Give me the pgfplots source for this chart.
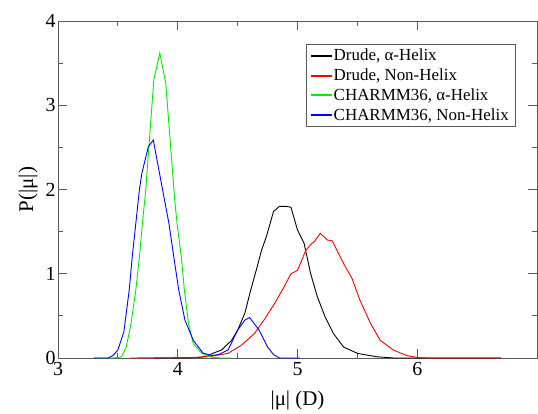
\documentclass[border=0pt]{standalone}
\usepackage{fontspec}
\setmainfont{Liberation Serif}
\usepackage{pgfplots}
\pgfplotsset{compat=1.18}
\definecolor{cgreen}{RGB}{0,235,0}
\definecolor{cblue}{RGB}{0,0,255}
\definecolor{cred}{RGB}{255,0,0}
\definecolor{axgray}{RGB}{90,90,90}
\begin{document}
\begin{tikzpicture}
\begin{axis}[
  scale only axis,
  width=479bp, height=337bp,
  xmin=3, xmax=7, ymin=0, ymax=4,
  xtick={3,4,5,6}, ytick={0,1,2,3,4},
  minor x tick num=1, minor y tick num=1,
  tick align=inside,
  major tick length=9bp, minor tick length=5bp,
  every tick/.style={axgray, line width=0.8pt},
  axis line style={axgray, line width=0.8pt},
  /pgf/number format/assume math mode=true,
  tick label style={font=\rmfamily\fontsize{20}{22}\selectfont, text=black},
  xticklabel style={yshift=-1bp},
  yticklabel style={xshift=1bp},
  xlabel={|μ| (D)}, ylabel={P(|μ|)},
  label style={font=\rmfamily\fontsize{21}{23}\selectfont},
  xlabel style={yshift=-8bp},
  ylabel style={yshift=1bp},
  legend style={at={(rel axis cs:0.955,0.932)}, anchor=north east,
    font=\rmfamily\fontsize{17}{19}\selectfont,
    inner xsep=4.5bp, inner ysep=3bp, row sep=2.5bp, cells={anchor=west}},
  every axis legend/.append style={draw=axgray},
  legend image code/.code={\fill[#1] (0bp,-0.5bp) rectangle (20bp,0.5bp);},
  every axis plot/.append style={line width=0.9pt},
]
\addplot[draw=black] coordinates {
(3.80,0) (4.10,0) (4.20,0.01) (4.256,0.03) (4.30,0.06) (4.366,0.095) (4.45,0.21)
(4.50,0.33) (4.56,0.53) (4.61,0.81) (4.655,1.04) (4.70,1.28) (4.74,1.44)
(4.80,1.74) (4.85,1.80) (4.90,1.80) (4.945,1.79) (5.00,1.52) (5.055,1.36)
(5.11,1.0) (5.165,0.73) (5.23,0.49) (5.30,0.29) (5.385,0.13) (5.50,0.055)
(5.66,0.015) (5.80,0) (6.70,0)};
\addplot[draw=cred] coordinates {
(3.60,0) (4.10,0.005) (4.26,0.015) (4.42,0.055) (4.53,0.15) (4.64,0.29)
(4.72,0.45) (4.81,0.65) (4.89,0.85) (4.945,1.0) (5.00,1.04) (5.07,1.28)
(5.12,1.36) (5.14,1.38) (5.19,1.48) (5.25,1.40) (5.29,1.39) (5.385,1.12)
(5.455,0.945) (5.52,0.69) (5.61,0.41) (5.69,0.21) (5.80,0.095) (5.91,0.03)
(6.00,0.005) (6.10,0) (6.70,0)};
\addplot[draw=cgreen] coordinates {
(3.30,0) (3.45,0) (3.50,0.005) (3.53,0.015) (3.57,0.13) (3.61,0.41) (3.65,0.81)
(3.68,1.2) (3.705,1.6) (3.733,2.0) (3.80,3.30) (3.85,3.62) (3.90,3.26)
(3.975,1.87) (3.994,1.6) (4.03,1.2) (4.055,0.81) (4.09,0.41) (4.13,0.17)
(4.20,0.055) (4.28,0.01) (4.36,0) (4.45,0)};
\addplot[draw=cblue] coordinates {
(3.30,0) (3.42,0) (3.46,0.03) (3.50,0.095) (3.55,0.31) (3.595,0.81) (3.62,1.2)
(3.65,1.6) (3.68,2.0) (3.70,2.19) (3.755,2.51) (3.796,2.586) (3.84,2.25)
(3.89,1.87) (3.926,1.6) (3.967,1.2) (4.008,0.81) (4.06,0.45) (4.13,0.21)
(4.21,0.06) (4.28,0.03) (4.34,0.04) (4.42,0.095) (4.50,0.33) (4.56,0.45)
(4.60,0.48) (4.68,0.33) (4.75,0.13) (4.80,0.04) (4.85,0) (5.02,0)};
\addlegendimage{fill=black}
\addlegendentry{Drude, α-Helix}
\addlegendimage{fill=cred}
\addlegendentry{Drude, Non-Helix}
\addlegendimage{fill=cgreen}
\addlegendentry{CHARMM36, α-Helix}
\addlegendimage{fill=cblue}
\addlegendentry{CHARMM36, Non-Helix}
\coordinate (O) at (rel axis cs:0,0);
\coordinate (T) at (rel axis cs:1,1);
\end{axis}
\path ([shift={(-58bp,-47bp)}]O) rectangle ([shift={(1bp,21bp)}]T);
\end{tikzpicture}
\end{document}
